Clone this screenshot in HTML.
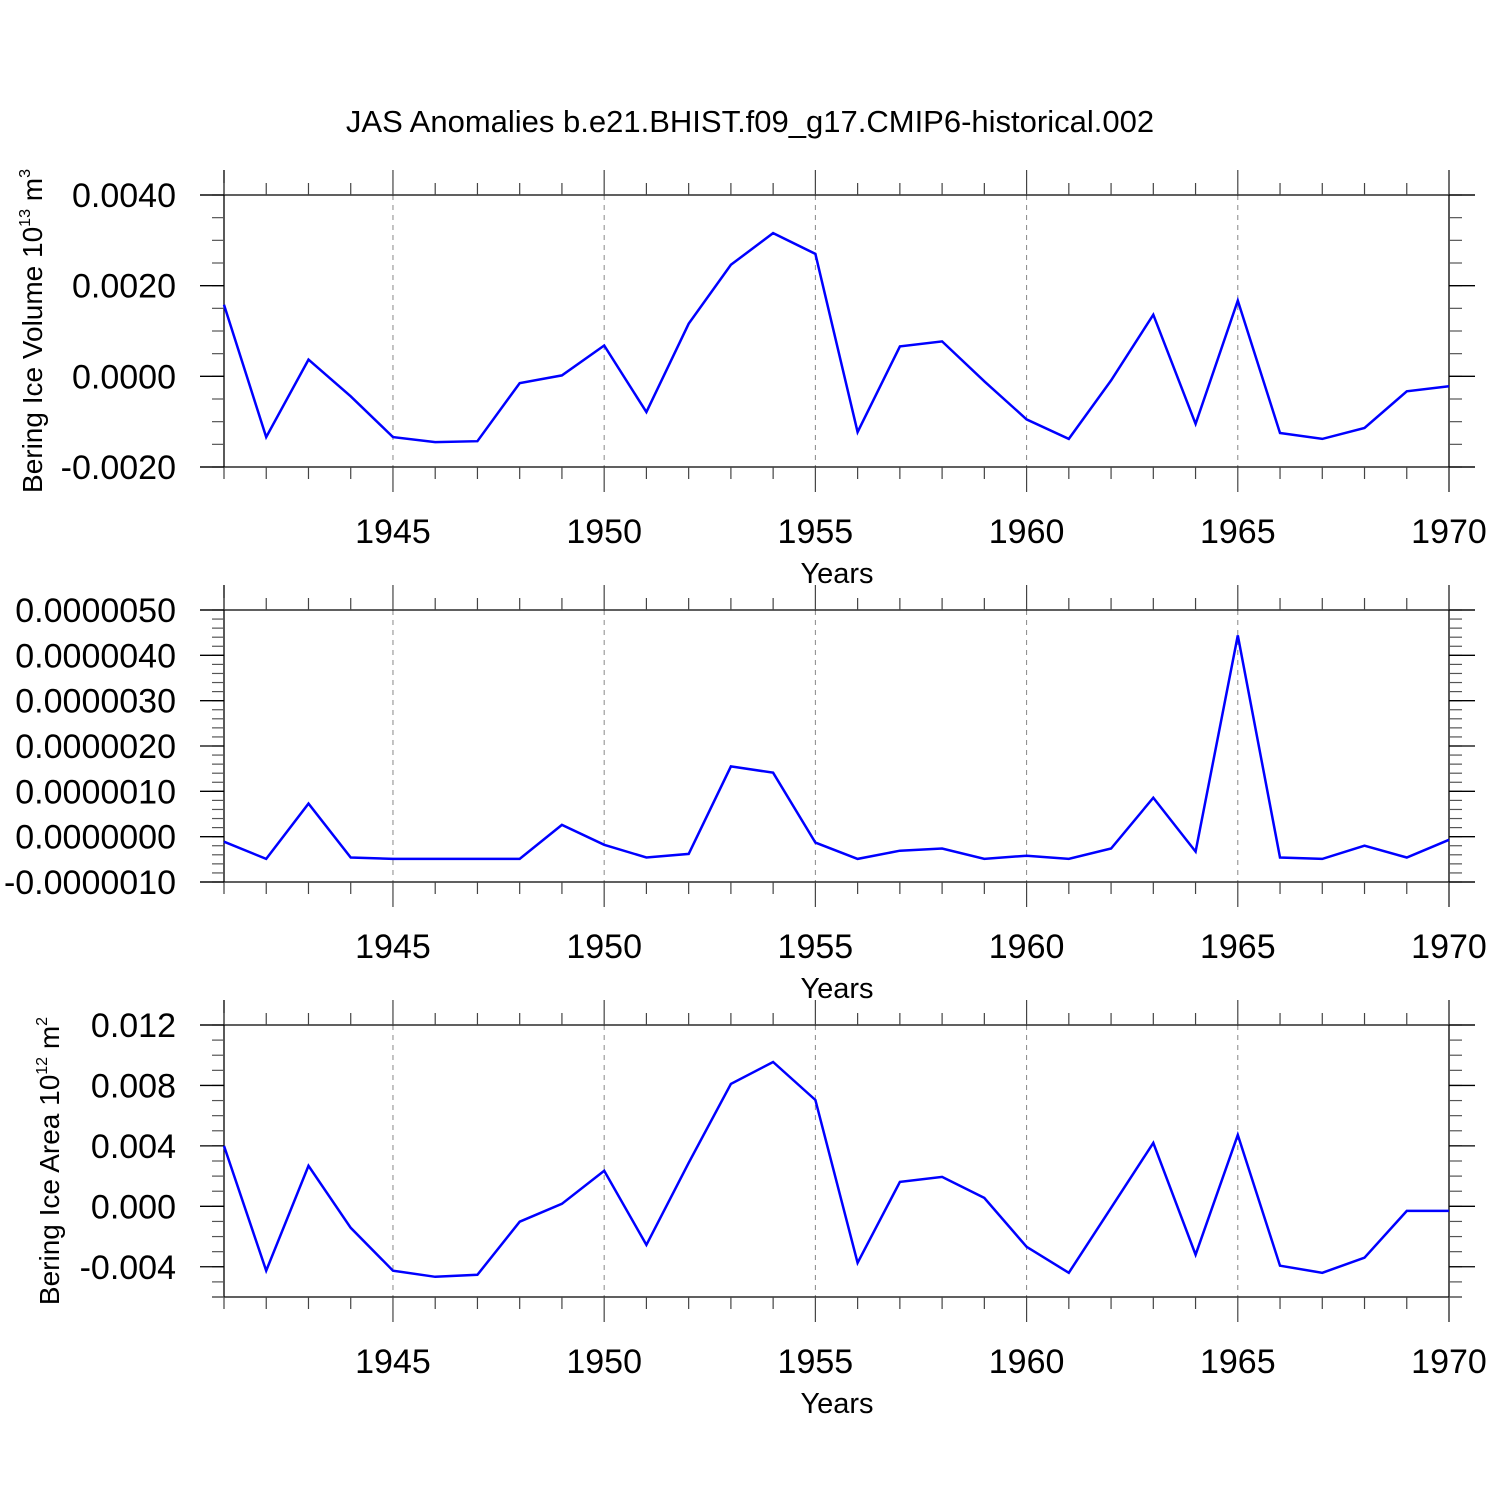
<!DOCTYPE html>
<html><head><meta charset="utf-8"><style>
html,body{margin:0;padding:0;background:#fff}
svg{display:block;font-family:"Liberation Sans",sans-serif}
</style></head><body>
<svg id="chart" width="1500" height="1500" viewBox="0 0 1500 1500" xmlns="http://www.w3.org/2000/svg">
<text x="750" y="132" font-size="31" text-anchor="middle">JAS Anomalies b.e21.BHIST.f09_g17.CMIP6-historical.002</text>
<text transform="translate(42,331) rotate(-90)" font-size="28" text-anchor="middle">Bering Ice Volume 10<tspan dy="-12" font-size="16">13</tspan><tspan dy="12"> m</tspan><tspan dy="-12" font-size="16">3</tspan></text>
<text transform="translate(59,1161) rotate(-90)" font-size="28" text-anchor="middle">Bering Ice Area 10<tspan dy="-12" font-size="16">12</tspan><tspan dy="12"> m</tspan><tspan dy="-12" font-size="16">2</tspan></text>
</svg>
<script>
const years = [1941,1942,1943,1944,1945,1946,1947,1948,1949,1950,1951,1952,1953,1954,1955,1956,1957,1958,1959,1960,1961,1962,1963,1964,1965,1966,1967,1968,1969,1970];
const volumeValues = [0.00158,-0.00134,0.00037,-0.00044,-0.00134,-0.00145,-0.00143,-0.00015,0.00002,0.00068,-0.00079,0.00116,0.00246,0.00316,0.0027,-0.00123,0.00066,0.00077,-0.00011,-0.00095,-0.00138,-0.00009,0.00136,-0.00105,0.00167,-0.00125,-0.00138,-0.00114,-0.00033,-0.00022];
const middleValues = [-0.11e-6,-0.49e-6,0.73e-6,-0.46e-6,-0.49e-6,-0.49e-6,-0.49e-6,-0.49e-6,0.26e-6,-0.18e-6,-0.46e-6,-0.38e-6,1.55e-6,1.41e-6,-0.13e-6,-0.49e-6,-0.31e-6,-0.26e-6,-0.49e-6,-0.42e-6,-0.49e-6,-0.26e-6,0.86e-6,-0.33e-6,4.44e-6,-0.46e-6,-0.49e-6,-0.2e-6,-0.46e-6,-0.07e-6];
const areaValues = [0.0040,-0.00426,0.00268,-0.00142,-0.00426,-0.00466,-0.00453,-0.00102,0.00017,0.00235,-0.00255,0.00288,0.0081,0.00955,0.00704,-0.00374,0.00162,0.00195,0.00056,-0.00268,-0.0044,-0.0001,0.0042,-0.0032,0.00473,-0.00393,-0.0044,-0.0034,-0.0003,-0.0003];
const xTickLabels = ["1945","1950","1955","1960","1965","1970"];
const volumeTicks = [0.004,0.002,0,-0.002];
const volumeTickLabels = ["0.0040","0.0020","0.0000","-0.0020"];
const middleTicks = [5e-6,4e-6,3e-6,2e-6,1e-6,0,-1e-6];
const middleTickLabels = ["0.0000050","0.0000040","0.0000030","0.0000020","0.0000010","0.0000000","-0.0000010"];
const areaTicks = [0.012,0.008,0.004,0,-0.004];
const areaTickLabels = ["0.012","0.008","0.004","0.000","-0.004"];

const svg = document.getElementById('chart');
const NS = 'http://www.w3.org/2000/svg';
const X0 = 224, X1 = 1449;
const xs = y => X0 + (y - 1941) / (1970 - 1941) * (X1 - X0);
function mk(tag, attrs, parent) {
  const e = document.createElementNS(NS, tag);
  for (const k in attrs) e.setAttribute(k, attrs[k]);
  (parent || svg).appendChild(e);
  return e;
}
function line(g, x1, y1, x2, y2, stroke, w, dash) {
  const l = mk('line', {x1, y1, x2, y2, stroke, 'stroke-width': w}, g);
  if (dash) l.setAttribute('stroke-dasharray', dash);
  return l;
}
const panels = [
  {name:'volume', top:195, bot:467, ymin:-0.002, ymax:0.004, minor:0.0005, vals:volumeValues, ticks:volumeTicks, labels:volumeTickLabels},
  {name:'middle', top:610, bot:882, ymin:-1e-6, ymax:5e-6, minor:2e-7, vals:middleValues, ticks:middleTicks, labels:middleTickLabels},
  {name:'area', top:1025, bot:1297, ymin:-0.006, ymax:0.012, minor:0.001, vals:areaValues, ticks:areaTicks, labels:areaTickLabels}
];
panels.forEach(p => {
  const g = mk('g', {});
  
  
  const ys = v => p.bot - (v - p.ymin) / (p.ymax - p.ymin) * (p.bot - p.top);
  for (let y = 1945; y < 1970; y += 5) line(g, xs(y), p.top, xs(y), p.bot, '#888', 1, '5,5');
  line(g, 200, p.top, 1475, p.top, '#000', 1.3);
  line(g, p.name === 'area' ? 212 : 200, p.bot, p.name === 'area' ? 1462 : 1475, p.bot, '#000', 1.3);
  line(g, X0, p.top - 25, X0, p.bot, '#000', 1.3);
  line(g, X1, p.top - 25, X1, p.bot + 25, '#000', 1.3);
  for (let y = 1941; y <= 1970; y++) {
    const maj = y % 5 === 0;
    const L = maj ? 25 : 12;
    line(g, xs(y), p.top - L, xs(y), p.top, '#444', 1.2);
    line(g, xs(y), p.bot, xs(y), p.bot + L, '#444', 1.2);
  }
  const n = Math.round((p.ymax - p.ymin) / p.minor);
  for (let i = 0; i <= n; i++) {
    const yy = ys(p.ymin + i * p.minor);
    line(g, 212, yy, X0, yy, '#555', 1.2);
    line(g, X1, yy, 1462, yy, '#555', 1.2);
  }
  p.ticks.forEach((v, i) => {
    const yy = ys(v);
    line(g, 200, yy, X0, yy, '#000', 1.3);
    line(g, X1, yy, 1475, yy, '#000', 1.3);
    const t = mk('text', {x: 176, y: yy + 12, 'font-size': 34, 'text-anchor': 'end'}, g);
    
    
    t.textContent = p.labels[i];
  });
  xTickLabels.forEach(lbl => {
    const t = mk('text', {x: xs(+lbl), y: p.bot + 76, 'font-size': 34, 'text-anchor': 'middle'}, g);
    
    
    t.textContent = lbl;
  });
  const xt = mk('text', {x: 837, y: p.bot + 116, 'font-size': 29, 'text-anchor': 'middle'}, g);
  
  
  xt.textContent = 'Years';
  const pts = p.vals.map((v, i) => xs(years[i]).toFixed(1) + ',' + ys(v).toFixed(1)).join(' ');
  const pl = mk('polyline', {points: pts, fill: 'none', stroke: '#0000ff', 'stroke-width': 2.5, 'stroke-linejoin': 'miter'}, g);
  
  
});
</script>
</body></html>
